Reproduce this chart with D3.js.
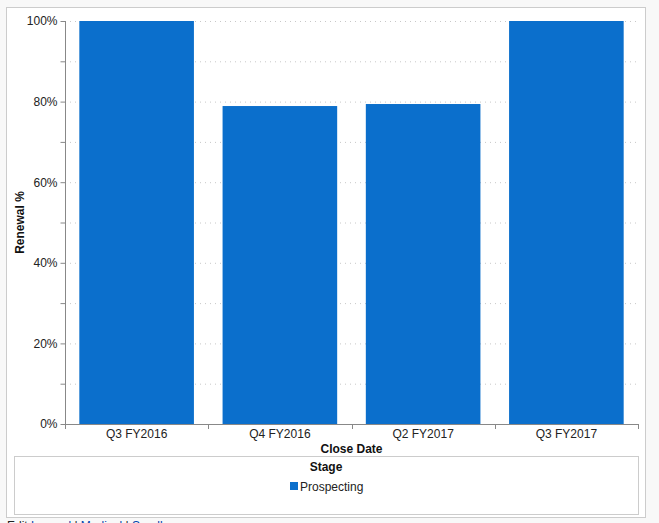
<!DOCTYPE html>
<html><head><meta charset="utf-8">
<script src="https://cdn.jsdelivr.net/npm/d3@7"></script>
<style>
html,body{margin:0;padding:0;background:#f8f8f8;overflow:hidden;}
svg{display:block;font-family:"Liberation Sans",Arial,sans-serif;}
</style></head>
<body><svg id="c" width="659" height="523"></svg>
<script>
const categories = ["Q3 FY2016","Q4 FY2016","Q2 FY2017","Q3 FY2017"];
const values = [100, 78.9, 79.4, 100];
const yTicks = [0,10,20,30,40,50,60,70,80,90,100];
const seriesName = "Prospecting";

const svg = d3.select("#c");
// outer frame
svg.append("rect").attr("x",6.5).attr("y",7.5).attr("width",639).attr("height",510)
  .attr("fill","#fff").attr("stroke","#cccccc");

const L=65, R=638, T=21, B=424;
const x = d3.scaleBand().domain(categories).range([L,R]).paddingInner(0.2).paddingOuter(0.1);
const y = d3.scaleLinear().domain([0,100]).range([B,T]);

// gridlines
svg.append("g").selectAll("line").data(yTicks.filter(d=>d>0)).join("line")
  .attr("x1",L).attr("x2",R).attr("y1",d=>y(d)+0.5).attr("y2",d=>y(d)+0.5)
  .attr("stroke","#c8c8c8").attr("stroke-dasharray","1,4");

// bars
svg.append("g").selectAll("rect").data(values).join("rect")
  .attr("x",(d,i)=>x(categories[i])).attr("width",x.bandwidth())
  .attr("y",d=>y(d)).attr("height",d=>B-y(d)).attr("fill","#0b6fcc");

// y axis
const ya = svg.append("g").attr("transform",`translate(${L+0.5},0)`)
  .call(d3.axisLeft(y).tickValues(yTicks).tickSize(5).tickPadding(3)
    .tickFormat(d=>d%20===0?d+"%":""));
ya.select(".domain").attr("stroke","#888").attr("d",`M0,${T}V${B+0.5}`);
ya.selectAll(".tick line").attr("stroke","#888");
ya.selectAll("text").attr("font-size",12).attr("fill","#222").attr("font-family","Liberation Sans,Arial,sans-serif");

// x axis
const xa = svg.append("g").attr("transform",`translate(0,${B+0.5})`)
  .call(d3.axisBottom(x).tickSize(0).tickPadding(5));
xa.select(".domain").attr("stroke","#888").attr("d",`M${L},0H${R}`);
xa.selectAll("text").attr("font-size",12).attr("fill","#222").attr("font-family","Liberation Sans,Arial,sans-serif");
const bounds = [L].concat(categories.map(c=>x(c)-x.step()*x.paddingInner()/2+x.step()).slice(0,-1)).concat([R]);
svg.append("g").selectAll("line").data(bounds).join("line")
  .attr("x1",d=>Math.round(d)+0.5).attr("x2",d=>Math.round(d)+0.5).attr("y1",B).attr("y2",B+5).attr("stroke","#888");

// axis titles
svg.append("text").attr("x",(L+R)/2).attr("y",453).attr("text-anchor","middle")
  .attr("font-size",12).attr("font-weight","bold").attr("fill","#111").text("Close Date");
svg.append("text").attr("transform",`translate(24,${(T+B)/2}) rotate(-90)`).attr("text-anchor","middle")
  .attr("font-size",12).attr("font-weight","bold").attr("fill","#111").text("Renewal %");

// legend
svg.append("rect").attr("x",14.5).attr("y",456.5).attr("width",624).attr("height",58)
  .attr("fill","#fff").attr("stroke","#cccccc");
svg.append("text").attr("x",326).attr("y",471).attr("text-anchor","middle")
  .attr("font-size",12).attr("font-weight","bold").attr("fill","#111").text("Stage");
svg.append("rect").attr("x",290).attr("y",482).attr("width",8).attr("height",8).attr("fill","#0b6fcc");
svg.append("text").attr("x",300).attr("y",491).attr("font-size",12).attr("fill","#222").text(seriesName);

// bottom links (clipped at page edge, as in the reference)
const ft = svg.append("text").attr("x",7).attr("y",530).attr("font-size",12);
ft.append("tspan").attr("fill","#222").text("Edit ");
ft.append("tspan").attr("fill","#0645ad").text("Legend");
ft.append("tspan").attr("fill","#222").text(" | ");
ft.append("tspan").attr("fill","#0645ad").text("Medical");
ft.append("tspan").attr("fill","#222").text(" | ");
ft.append("tspan").attr("fill","#0645ad").text("Sandbox");
</script></body></html>
